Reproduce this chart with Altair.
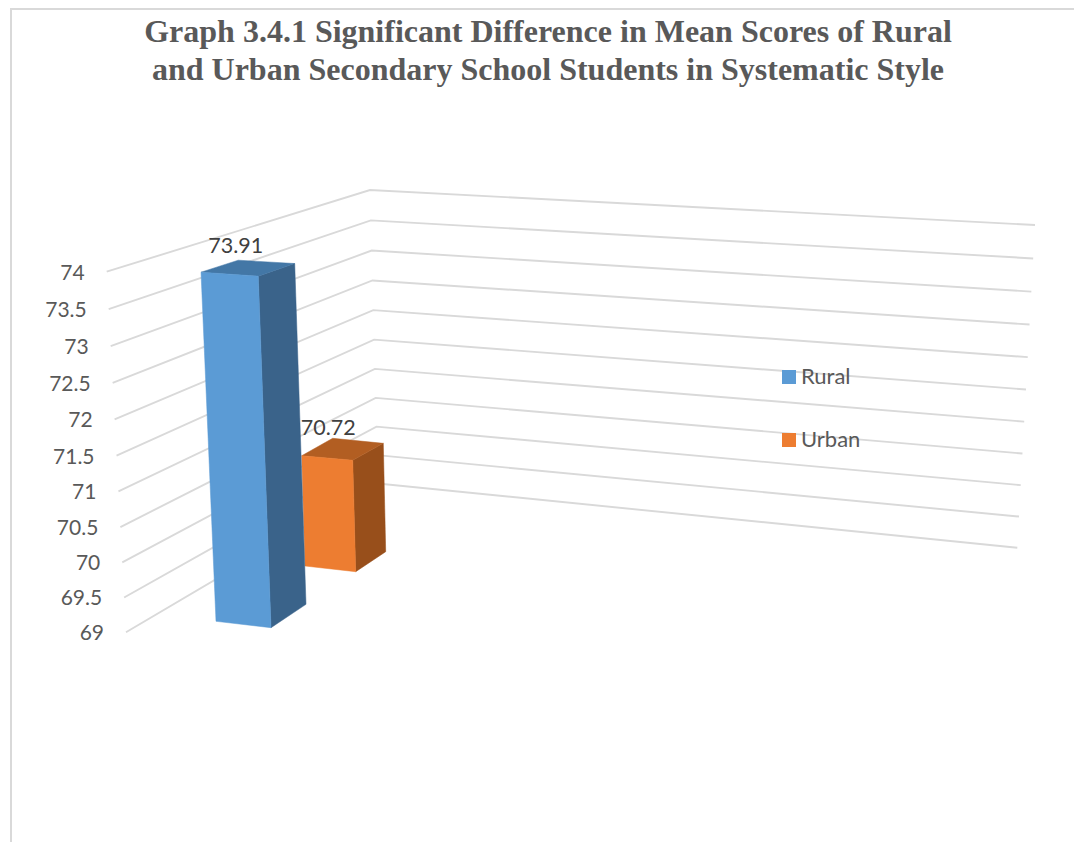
import altair as alt

# Chart content
TITLE_LINES = [
    "Graph 3.4.1 Significant Difference in Mean Scores of Rural",
    "and Urban Secondary School Students in Systematic Style",
]
SERIES = ["Rural", "Urban"]
MEANS = [73.91, 70.72]
TICKS = [74, 73.5, 73, 72.5, 72, 71.5, 71, 70.5, 70, 69.5, 69]
TICK_LABELS = ["74", "73.5", "73", "72.5", "72", "71.5", "71", "70.5", "70", "69.5", "69"]
BASE_VALUE = 69
TOP_VALUE = 74

# Colours
FRONT = ["#5B9BD5", "#ED7D31"]
SIDE = ["#3A638A", "#984F1B"]
CAP = ["#4377A6", "#B25E22"]
GRID = "#D9D9D9"
TEXT = "#595959"

# Perspective frame of the 3-D axes, as (x, y) at the lowest and highest value
FLOOR_TO_TOP_LEFT = ((126, 632.3), (106.7, 271.7))
FLOOR_TO_TOP_BACK = ((378, 483.5), (370, 190))
FLOOR_TO_TOP_RIGHT = ((1017.3, 547.7), (1035, 225))
FORESHORTENING = 1.04

# Bar corners on the floor and how far each corner moves per unit of value
BAR_CORNERS = [
    {
        "fl": ((216, 621.3), (-3.05, -71.1)),
        "fr": ((271, 627.7), (-2.59, -71.6)),
        "br": ((306, 604.3), (-2.30, -69.4)),
        "bl": ((251, 598), (-2.60, -68.8)),
    },
    {
        "fl": ((305, 566), (-1.92, -64.1)),
        "fr": ((355.7, 571.7), (-1.74, -64.8)),
        "br": ((385.7, 551.7), (-1.40, -63.0)),
        "bl": ((335.5, 547), (-1.63, -63.2)),
    },
]
VALUE_LABEL_OFFSET = [(-2.5, -13), (-4.5, -9.5)]
TICK_LABEL_GAP = 22
TICK_LABEL_DROP = 2

PROJECTION = alt.Projection(type="identity", scale=1, translate=[0, 0])


def on_frame(edge, value):
    (x0, y0), (x1, y1) = edge
    t = (value - BASE_VALUE) / (TOP_VALUE - BASE_VALUE)
    # Upper gridlines are nearer the viewer, so their spacing opens up slightly
    f = t / (t + FORESHORTENING * (1 - t))
    return [x0 + (x1 - x0) * f, y0 + (y1 - y0) * f]


def corner(bar, name, value):
    (x, y), (dx, dy) = BAR_CORNERS[bar][name]
    rise = value - BASE_VALUE
    return [x + dx * rise, y + dy * rise]


def shape(kind, coords, **props):
    return {
        "type": "Feature",
        "geometry": {"type": kind, "coordinates": coords},
        "properties": props,
    }


def face(bar, lower, upper, value):
    ring = [corner(bar, *c) for c in (*lower, *upper)]
    return [ring + [ring[0]]]


# Gridlines: from the front of the value axis to the back wall, then across it
grid_features = [
    shape(
        "LineString",
        [on_frame(FLOOR_TO_TOP_LEFT, v), on_frame(FLOOR_TO_TOP_BACK, v), on_frame(FLOOR_TO_TOP_RIGHT, v)],
    )
    for v in TICKS
]
border_features = [shape("LineString", [[11, 842], [11, 9], [1074, 9]])]

grid = alt.Chart(alt.Data(values=grid_features)).mark_geoshape(
    filled=False, stroke=GRID, strokeWidth=1.9
).project(**PROJECTION.to_dict())
border = alt.Chart(alt.Data(values=border_features)).mark_geoshape(
    filled=False, stroke=GRID, strokeWidth=2
).project(**PROJECTION.to_dict())

color_scale = alt.Scale(domain=SERIES, range=FRONT)
legend = alt.Legend(
    orient="none",
    legendX=778,
    legendY=366,
    title=None,
    symbolType="square",
    symbolSize=196,
    symbolStrokeWidth=0,
    symbolOpacity=1,
    labelFont="Lato",
    labelFontSize=22,
    labelColor=TEXT,
    labelOffset=1,
    rowPadding=41,
)

bar_layers = []
# The farther series goes first so the nearer one paints over it
for i in reversed(range(len(SERIES))):
    v = MEANS[i]
    side = face(i, [("fr", BASE_VALUE), ("br", BASE_VALUE)], [("br", v), ("fr", v)], v)
    cap = face(i, [("fl", v), ("fr", v)], [("br", v), ("bl", v)], v)
    front = face(i, [("fl", BASE_VALUE), ("fr", BASE_VALUE)], [("fr", v), ("fl", v)], v)
    shaded = [
        shape("Polygon", side, shade=SIDE[i]),
        shape("Polygon", cap, shade=CAP[i]),
    ]
    bar_layers.append(
        alt.Chart(alt.Data(values=shaded)).mark_geoshape(strokeWidth=0.5).encode(
            fill=alt.Fill("properties.shade:N", scale=None),
            stroke=alt.Stroke("properties.shade:N", scale=None),
        ).project(**PROJECTION.to_dict())
    )
    bar_layers.append(
        alt.Chart(alt.Data(values=[shape("Polygon", front, series=SERIES[i])])).mark_geoshape(
            strokeWidth=0.5
        ).encode(
            fill=alt.Fill("properties.series:N", scale=color_scale, legend=legend),
            stroke=alt.Stroke("properties.series:N", scale=color_scale, legend=None),
        ).project(**PROJECTION.to_dict())
    )

# Value-axis labels sit just left of each gridline's front end
tick_rows = []
for v, label in zip(TICKS, TICK_LABELS):
    x, y = on_frame(FLOOR_TO_TOP_LEFT, v)
    tick_rows.append({"lon": x - TICK_LABEL_GAP, "lat": y + TICK_LABEL_DROP, "label": label})
tick_text = alt.Chart(alt.Data(values=tick_rows)).mark_text(
    font="Lato", fontSize=21, color=TEXT, align="right", baseline="middle"
).encode(
    longitude="lon:Q", latitude="lat:Q", text="label:N"
).project(**PROJECTION.to_dict())

# Value labels above each bar's cap
value_rows = []
for i, v in enumerate(MEANS):
    x, y = corner(i, "bl", v)
    dx, dy = VALUE_LABEL_OFFSET[i]
    value_rows.append({"lon": x + dx, "lat": y + dy, "label": f"{v:.2f}"})
value_text = alt.Chart(alt.Data(values=value_rows)).mark_text(
    font="Lato", fontSize=21.5, color="#404040", align="center", baseline="middle"
).encode(
    longitude="lon:Q", latitude="lat:Q", text="label:N"
).project(**PROJECTION.to_dict())

chart = alt.layer(border, grid, *bar_layers, tick_text, value_text).properties(
    width=1074,
    height=842,
    padding=0,
    autosize=alt.AutoSizeParams(type="none"),
    background="white",
    title=alt.TitleParams(
        text=TITLE_LINES,
        font="Liberation Serif",
        fontSize=32,
        fontWeight="bold",
        color=TEXT,
        anchor="middle",
        align="center",
        baseline="top",
        lineHeight=38,
        dx=11,
        offset=-87,
    ),
).configure_view(stroke=None)

chart.save("out.html", embed_options={"renderer": "svg", "actions": False})
